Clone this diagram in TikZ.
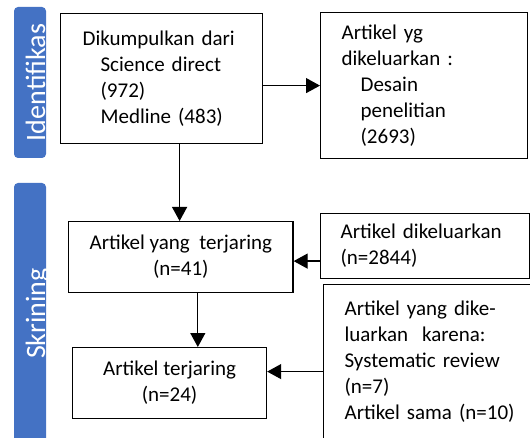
\documentclass[tikz,border=0pt]{standalone}
\usepackage{fontspec}
\setmainfont{Carlito}
\usetikzlibrary{arrows.meta}
\definecolor{phaseblue}{RGB}{68,114,196}

\begin{document}
\begin{tikzpicture}[x=1pt, y=-1pt,
    every node/.style={font=\fontsize{21pt}{26pt}\selectfont},
    box/.style={draw, rectangle, line width=1.2pt, anchor=north west, inner xsep=21pt, align=left},
    phase/.style={rectangle, rounded corners=4pt, fill=phaseblue, text=white, rotate=90, inner sep=0pt,
        minimum height=32pt, text height=30pt, text depth=0pt, font=\fontsize{28pt}{34pt}\selectfont},
    arr/.style={line width=1.2pt, -{Triangle[length=14pt, width=15pt]}}]
    \useasboundingbox (0,0) rectangle (530,438);
    \clip (0,0) rectangle (530,438);
    \node[phase, minimum width=151pt] (ident) at (30,82.5) {Identifikas};
    \node[phase, minimum width=261pt] (skrin) at (30,313.5) {Skrining};
    \node[box, text width=158pt, minimum width=202pt, minimum height=130pt] (src) at (60,13)
        {Dikumpulkan dari\\\hspace*{18pt}Science direct\\\hspace*{18pt}(972)\\\hspace*{18pt}Medline (483)};
    \node[box, text width=165pt, minimum width=207pt, minimum height=146pt] (excl1) at (320,12)
        {Artikel yg\\dikeluarkan :\\\hspace*{19pt}Desain\\\hspace*{19pt}penelitian\\\hspace*{19pt}(2693)};
    \node[box, align=center, minimum width=194pt, minimum height=71pt] (hit1) at (68,221)
        {Artikel yang\ \ terjaring\\(n=41)};
    \node[box, inner xsep=20pt, text width=169pt, minimum width=209pt, minimum height=65pt] (excl2) at (320,213)
        {Artikel dikeluarkan\\(n=2844)};
    \node[box, align=center, minimum width=194pt, minimum height=71pt] (hit2) at (72,347)
        {Artikel terjaring\\(n=24)};
    \node[box, text width=180pt, minimum width=222pt, minimum height=155pt] (excl3) at (323,284)
        {Artikel yang dike-\\luarkan\ \ karena:\\Systematic review\\(n=7)\\Artikel sama (n=10)};
    \draw[arr] (src.east |- excl1.west) -- (excl1.west);
    \draw[arr] ([xshift=18pt]src.south) -- ([xshift=18pt]src.south |- hit1.north);
    \draw[arr] ([yshift=-15pt]excl2.west) -- ([yshift=-15pt]excl2.west -| hit1.east);
    \draw[arr] ([xshift=17pt]hit1.south) -- ([xshift=17pt]hit1.south |- hit2.north);
    \draw[arr] ([yshift=-9.5pt]excl3.west) -- ([yshift=-9.5pt]excl3.west -| hit2.east);
\end{tikzpicture}
\end{document}
